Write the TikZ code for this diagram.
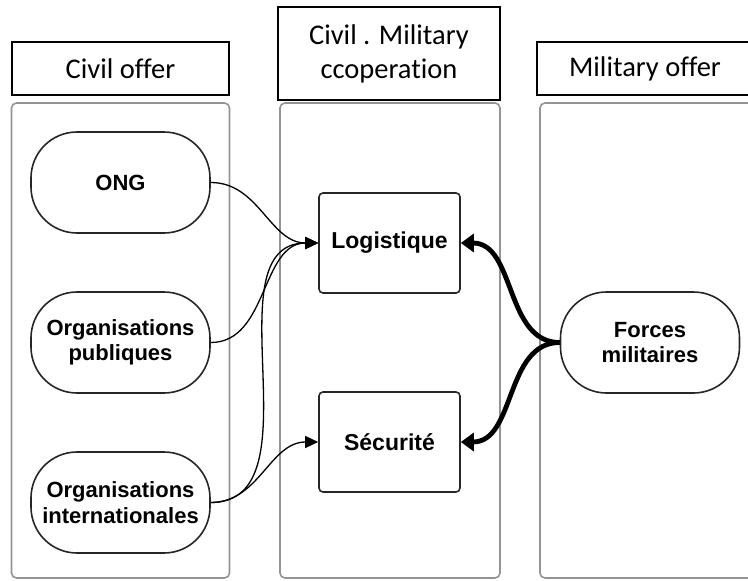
\documentclass[tikz,border=0pt]{standalone}
\usepackage{fontspec}
\setmainfont{Liberation Sans}
\newfontfamily\hdrfont[Ligatures=NoCommon]{Carlito}
\usetikzlibrary{arrows.meta}
\begin{document}
\begin{tikzpicture}[x=1pt,y=-1pt,
  panel/.style={draw=black!42, line width=1.6pt, rounded corners=5pt, minimum width=218pt, minimum height=475pt, inner sep=0pt},
  header/.style={draw=black, line width=1.6pt, fill=white, inner sep=0pt, align=center, font=\hdrfont\fontsize{28.5}{34}\selectfont},
  actor/.style={draw=black!85, line width=1.6pt, rounded corners=46pt, minimum width=179pt, minimum height=101pt, inner sep=0pt, align=center, font=\bfseries\fontsize{22}{25.5}\selectfont},
  task/.style={draw=black!85, line width=1.6pt, rounded corners=4pt, minimum width=141pt, minimum height=100pt, inner sep=0pt, align=center, font=\bfseries\fontsize{23}{26}\selectfont},
  thin/.style={line width=1.3pt, -{Triangle[length=13pt,width=12pt]}},
  thick/.style={line width=4.8pt, -{Triangle[length=13pt,width=18pt]}}]
\useasboundingbox (0,0) rectangle (748,581);
\clip (0,0) rectangle (748,581);
% panels
\node[panel] (p1) at (120.5,340.5) {};
\node[panel, minimum width=220pt] (p2) at (390,340.5) {};
\node[panel, minimum width=220pt] (p3) at (650,340.5) {};
% headers
\node[header, minimum width=217pt, minimum height=53pt] (h1) at (120.5,68.5) {Civil offer};
\node[header, minimum width=222pt, minimum height=93pt] (h2) at (389,53.5) {Civil . Military\\ccoperation};
\node[header, minimum width=216pt, minimum height=53pt] (h3) at (645,68.5) {Military offer};
% actors
\node[actor] (ong) at (120.5,182.5) {ONG};
\node[actor] (pub) at (120.5,342.5) {Organisations\\publiques};
\node[actor] (intl) at (120.5,502.5) {Organisations\\internationales};
\node[actor] (forces) at (650,342.5) {Forces\\militaires};
% tasks
\node[task] (log) at (389.5,243) {Logistique};
\node[task] (sec) at (389.5,442) {Sécurité};
% connectors
\draw[thin] (ong.east) to[out=0,in=180] (log.west);
\draw[thin] (pub.east) to[out=0,in=180] (log.west);
\draw[thin] (intl.east) to[out=0,in=180] (log.west);
\draw[thin] (intl.east) to[out=0,in=180] (sec.west);
\draw[thick] (forces.west) to[out=180,in=0] (log.east);
\draw[thick] (forces.west) to[out=180,in=0] (sec.east);
\end{tikzpicture}
\end{document}
